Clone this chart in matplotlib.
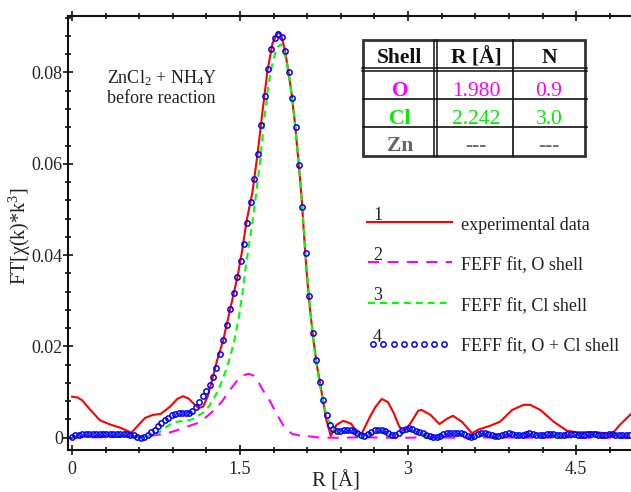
import numpy as np
import matplotlib
matplotlib.use('Agg')
import matplotlib.pyplot as plt
from matplotlib.ticker import MultipleLocator
from matplotlib.patches import Rectangle

plt.rcParams['font.family'] = ['Liberation Serif', 'DejaVu Serif']
plt.rcParams['mathtext.fontset'] = 'custom'
plt.rcParams['mathtext.rm'] = 'Liberation Serif'
plt.rcParams['mathtext.it'] = 'Liberation Serif:italic'
plt.rcParams['mathtext.bf'] = 'Liberation Serif:bold'
plt.rcParams['lines.scale_dashes'] = False

# ---------------- data ----------------
# 1: experimental data
exp_r = [0.00, 0.05, 0.09, 0.16, 0.25, 0.34, 0.44, 0.53, 0.59, 0.65, 0.72, 0.79,
         0.875, 0.94, 0.99, 1.04, 1.08, 1.13, 1.17, 1.21, 1.25, 1.29, 1.35, 1.41,
         1.48, 1.515, 1.56, 1.61, 1.655, 1.70, 1.745, 1.79, 1.84, 1.87, 1.90, 1.93,
         1.96, 1.99, 2.02, 2.05, 2.07, 2.095, 2.125, 2.155, 2.185, 2.21, 2.245, 2.27,
         2.31, 2.36, 2.42, 2.49, 2.55, 2.58, 2.66, 2.71, 2.765, 2.82, 2.87, 2.92,
         2.96, 3.02, 3.09, 3.12, 3.20, 3.28, 3.35, 3.40, 3.48, 3.57, 3.63, 3.73,
         3.82, 3.93, 4.03, 4.09, 4.18, 4.30, 4.42, 4.51, 4.68, 4.82, 4.89, 4.99]
exp_ft = [0.0090, 0.0088, 0.0082, 0.0062, 0.0038, 0.0029, 0.0021, 0.0011, 0.0027, 0.0043, 0.0050, 0.0052,
          0.0068, 0.0085, 0.0091, 0.0086, 0.0076, 0.0065, 0.0068, 0.0090, 0.0126, 0.0165, 0.0214, 0.0280,
          0.0356, 0.0405, 0.0477, 0.0537, 0.0619, 0.0714, 0.0805, 0.0864, 0.0889, 0.0880, 0.0849, 0.0805,
          0.0754, 0.0689, 0.0610, 0.0525, 0.0448, 0.0360, 0.0280, 0.0214, 0.0160, 0.0126, 0.0075, 0.0039,
          0.0004, 0.0028, 0.0037, 0.0031, 0.0010, 0.0006, 0.0046, 0.0068, 0.0085, 0.0078, 0.0055, 0.0025,
          0.0013, 0.0031, 0.0059, 0.0061, 0.0050, 0.0030, 0.0042, 0.0048, 0.0035, 0.0010, 0.0018, 0.0026,
          0.0035, 0.0061, 0.0072, 0.0072, 0.0061, 0.0035, 0.0015, 0.0012, 0.0012, 0.0008, 0.0028, 0.0052]

# 2: FEFF fit, O shell
o_r = [0.00, 0.15, 0.30, 0.45, 0.55, 0.62, 0.70, 0.78, 0.85, 0.92, 1.00, 1.06, 1.11,
       1.17, 1.23, 1.29, 1.34, 1.38, 1.42, 1.48, 1.53, 1.58, 1.62, 1.66, 1.69, 1.73,
       1.77, 1.82, 1.86, 1.89, 1.93, 1.97, 2.03, 2.09, 2.15, 2.22, 2.40, 2.60, 2.80,
       3.00, 3.20, 3.40, 3.60, 3.80, 4.00, 4.20, 4.40, 4.60, 4.80, 4.99]
o_ft = [0.0001, 0.0001, 0.0001, 0.0002, 0.0002, 0.0002, 0.0004, 0.0007, 0.0010, 0.0015, 0.0022, 0.0027, 0.0031,
        0.0040, 0.0052, 0.0066, 0.0080, 0.0094, 0.0108, 0.0127, 0.0137, 0.0140, 0.0136, 0.0124, 0.0110, 0.0094,
        0.0079, 0.0055, 0.0038, 0.0025, 0.0014, 0.0008, 0.0005, 0.0004, 0.0002, 0.0000, 0.0000, 0.0001, 0.0000,
        0.0000, 0.0001, 0.0000, 0.0000, 0.0001, 0.0000, 0.0000, 0.0001, 0.0000, 0.0000, 0.0000]

# 3: FEFF fit, Cl shell
cl_r = [0.00, 0.10, 0.20, 0.30, 0.40, 0.50, 0.58, 0.62, 0.68, 0.74, 0.79, 0.85, 0.90,
        0.96, 1.02, 1.07, 1.12, 1.17, 1.22, 1.26, 1.30, 1.34, 1.38, 1.42, 1.45, 1.49,
        1.52, 1.545, 1.575, 1.605, 1.64, 1.68, 1.72, 1.75, 1.78, 1.81, 1.84, 1.865,
        1.89, 1.92, 1.95, 1.98, 2.01, 2.04, 2.07, 2.10, 2.13, 2.16, 2.19, 2.22, 2.25,
        2.28, 2.31, 2.34, 2.37, 2.40, 2.45, 2.50, 2.55, 2.60, 2.65, 2.70, 2.76, 2.82,
        2.86, 2.92, 2.98, 3.02, 3.08, 3.14, 3.20, 3.26, 3.32, 3.38, 3.44, 3.50, 3.56,
        3.62, 3.68, 3.74, 3.79, 3.85, 3.91, 3.97, 4.04, 4.10, 4.17, 4.24, 4.30, 4.37,
        4.44, 4.51, 4.58, 4.65, 4.72, 4.79, 4.86, 4.93, 4.99]
cl_ft = [0.0002, 0.0004, 0.0004, 0.0004, 0.0004, 0.0004, 0.0002, 0.0001, 0.0003, 0.0008, 0.0014, 0.0025, 0.0033,
         0.0036, 0.0037, 0.0040, 0.0047, 0.0055, 0.0068, 0.0084, 0.0102, 0.0125, 0.0152, 0.0185, 0.0215, 0.0265,
         0.0315, 0.0365, 0.0415, 0.0462, 0.0528, 0.0608, 0.0705, 0.0768, 0.0810, 0.0840, 0.0857, 0.0862,
         0.0850, 0.0818, 0.0770, 0.0712, 0.0640, 0.0555, 0.0455, 0.0355, 0.0270, 0.0200, 0.0148, 0.0105, 0.0070,
         0.0042, 0.0030, 0.0018, 0.0010, 0.0010, 0.0013, 0.0013, 0.0008, 0.0002, 0.0006, 0.0011, 0.0013, 0.0009,
         0.0004, 0.0008, 0.0015, 0.0016, 0.0012, 0.0007, 0.0002, -0.0001, 0.0005, 0.0008, 0.0008, 0.0006, 0.0000,
         0.0005, 0.0008, 0.0004, 0.0001, 0.0004, 0.0007, 0.0005, 0.0006, 0.0007, 0.0004, 0.0006, 0.0006, 0.0003,
         0.0005, 0.0006, 0.0004, 0.0006, 0.0003, 0.0005, 0.0005, 0.0003, 0.0004]

# 4: FEFF fit, O + Cl shell (on the FT grid, step 0.0307 A)
r_step = 0.0307
sum_ft = [0.0002, 0.0005, 0.0007, 0.0008, 0.0009, 0.0009, 0.0009, 0.0008, 0.0008, 0.0008,
          0.0008, 0.0009, 0.0009, 0.0009, 0.0009, 0.0009, 0.0008, 0.0007, 0.0005, 0.0002,
          -0.0001, 0.0001, 0.0006, 0.0012, 0.0018, 0.0025, 0.0032, 0.0038, 0.0044, 0.0049,
          0.0052, 0.0054, 0.0055, 0.0055, 0.0054, 0.0058, 0.0068, 0.0079, 0.0091, 0.0103,
          0.0116, 0.0132, 0.0153, 0.0183, 0.0214, 0.0247, 0.0282, 0.0318, 0.0352, 0.0388,
          0.0424, 0.0470, 0.0516, 0.0567, 0.0622, 0.0685, 0.0748, 0.0808, 0.0852, 0.0876,
          0.0885, 0.0877, 0.0846, 0.0800, 0.0745, 0.0680, 0.0598, 0.0505, 0.0405, 0.0310,
          0.0230, 0.0170, 0.0122, 0.0082, 0.0050, 0.0028, 0.0019, 0.0014, 0.0014, 0.0016,
          0.0017, 0.0016, 0.0014, 0.0010, 0.0005, 0.0004, 0.0008, 0.0013, 0.0016, 0.0017,
          0.0017, 0.0015, 0.0011, 0.0006, 0.0006, 0.0011, 0.0016, 0.0020, 0.0021, 0.0019,
          0.0015, 0.0012, 0.0010, 0.0007, 0.0004, 0.0002, 0.0001, 0.0003, 0.0008, 0.0010,
          0.0011, 0.0011, 0.0011, 0.0010, 0.0008, 0.0004, 0.0002, 0.0004, 0.0008, 0.0011,
          0.0011, 0.0009, 0.0006, 0.0003, 0.0003, 0.0006, 0.0009, 0.0010, 0.0009, 0.0007,
          0.0006, 0.0007, 0.0009, 0.0010, 0.0009, 0.0007, 0.0006, 0.0007, 0.0009, 0.0009,
          0.0008, 0.0006, 0.0005, 0.0006, 0.0008, 0.0009, 0.0008, 0.0006, 0.0005, 0.0006,
          0.0008, 0.0009, 0.0008, 0.0006, 0.0005, 0.0006, 0.0008, 0.0008, 0.0007, 0.0006,
          0.0005, 0.0006, 0.0007]
sum_r = np.arange(len(sum_ft)) * r_step

series_labels = ['experimental data', 'FEFF fit, O shell', 'FEFF fit, Cl shell', 'FEFF fit, O + Cl shell']
series_numbers = ['1', '2', '3', '4']

x_ticks = [0, 1.5, 3, 4.5]
x_ticklabels = ['0', '1.5', '3', '4.5']
y_ticks = [0, 0.02, 0.04, 0.06, 0.08]
y_ticklabels = ['0', '0.02', '0.04', '0.06', '0.08']

table_header = ['Shell', 'R [Å]', 'N']
table_shells = ['O', 'Cl', 'Zn']
table_R = ['1.980', '2.242', '---']
table_N = ['0.9', '3.0', '---']

# ---------------- styles ----------------
RED, MAG, GRN, BLU = '#ff0000', '#ff00ff', '#00ff00', '#0000ff'
MAG_DASH = (8.0, 6.0)
GRN_DASH = (5.0, 3.6)

W, H = 631, 492
fig = plt.figure(figsize=(W / 100, H / 100), dpi=100)
ax = fig.add_axes([68 / W, 42 / H, 563 / W, 434.3 / H])

ax.plot(exp_r, exp_ft, color=RED, lw=1.5, zorder=3)
ax.plot(o_r, o_ft, color=MAG, lw=1.5, dashes=MAG_DASH, zorder=4)
ax.plot(cl_r, cl_ft, color=GRN, lw=1.5, dashes=GRN_DASH, zorder=5)
ax.plot(sum_r, sum_ft, ls='none', marker='o', ms=3.8, mfc='none', mec=BLU, mew=1.1, zorder=6)

ax.set_xlim(-0.036, 4.99)
ax.set_ylim(-0.00269, 0.09244)
ax.set_xticks(x_ticks, labels=x_ticklabels)
ax.set_yticks(y_ticks, labels=y_ticklabels)
ax.xaxis.set_minor_locator(MultipleLocator(0.3))
ax.yaxis.set_minor_locator(MultipleLocator(0.004))
ax.tick_params(which='both', direction='inout', top=True, right=False, width=1.2, colors='#111111',
               labelcolor='#222222', labelsize=13)
ax.tick_params(which='major', length=6.5)
ax.tick_params(which='minor', length=4)
ax.tick_params(axis='x', pad=5)
ax.tick_params(axis='y', pad=0.5)
for s in ['left', 'bottom', 'top']:
    ax.spines[s].set_linewidth(1.5)
    ax.spines[s].set_color('#111111')
ax.spines['right'].set_visible(False)

ax.set_xlabel('R [Å]', fontsize=15, color='#222222')
ax.xaxis.set_label_coords((336 - 68) / 563, (450 - 481) / 434.3)
ax.xaxis.label.set_va('center')
ax.set_ylabel('FT[χ(k)*k$^3$]', fontsize=14.5, color='#222222')
ax.yaxis.set_label_coords((20 - 68) / 563, (450 - 236) / 434.3)
ax.yaxis.label.set_va('center')

ax.text((107 - 68) / 563, (450 - 83.3) / 434.3, 'ZnCl$_2$ + NH$_4$Y', transform=ax.transAxes,
        fontsize=13, va='baseline', ha='left', color='#222222')
ax.text((107 - 68) / 563, (450 - 103) / 434.3, 'before reaction', transform=ax.transAxes,
        fontsize=13, va='baseline', ha='left', color='#222222')

# ---------------- overlay (legend + table) in pixel coords ----------------
ov = fig.add_axes([0, 0, 1, 1], zorder=10)
ov.set_xlim(0, W)
ov.set_ylim(H, 0)
ov.axis('off')
ov.patch.set_visible(False)

leg_y = [221.7, 261.7, 302.7, 344.3]
num_base = [219.5, 259.5, 300.5, 341.5]
txt_base = [230.5, 270.5, 311.5, 351.5]
ov.plot([366.7, 451.7], [leg_y[0]] * 2, color=RED, lw=1.5)
ov.plot([368, 451.7], [leg_y[1]] * 2, color=MAG, lw=1.5, dashes=MAG_DASH)
ov.plot([368, 446.7], [leg_y[2]] * 2, color=GRN, lw=1.5, dashes=GRN_DASH)
ov.plot(np.linspace(373.3, 444, 8), [leg_y[3]] * 8, ls='none', marker='o', ms=3.8,
        mfc='none', mec=BLU, mew=1.1)
for i in range(4):
    ov.text(373, num_base[i], series_numbers[i], fontsize=13, va='baseline', ha='left', color='#222222')
    ov.text(460.7, txt_base[i], series_labels[i], fontsize=13, va='baseline', ha='left', color='#222222')

# table
x0, x1, y0, y1 = 363.3, 585, 40, 156
ov.add_patch(Rectangle((x0, y0), x1 - x0, y1 - y0, fill=False, ec='#333333', lw=2.0))
for yy in [68.3, 71.3]:
    ov.plot([x0 - 1, x1 + 2], [yy, yy], color='#111111', lw=1.1)
for yy in [99.0, 127.3]:
    ov.plot([x0, x1 + 2], [yy, yy], color='#111111', lw=1.2)
for xx in [434.3, 437.3]:
    ov.plot([xx, xx], [y0, y1], color='#111111', lw=1.1)
ov.plot([512.7, 512.7], [y0, y1], color='#111111', lw=1.2)

col_x = [399, 476, 549]
head_base = 63.3
row_base = [95.5, 123.5, 151.0]
row_colors = [MAG, '#00ee00', '#666666']
for j, h in enumerate(table_header):
    ov.text(col_x[j], head_base, h, fontsize=15.5, fontweight='bold', ha='center', va='baseline', color='#111111')
for i in range(3):
    ov.text(col_x[0] + 1, row_base[i], table_shells[i], fontsize=15.5, fontweight='bold', ha='center',
            va='baseline', color=row_colors[i])
    ov.text(col_x[1], row_base[i], table_R[i], fontsize=15.5, ha='center', va='baseline', color=row_colors[i])
    ov.text(col_x[2], row_base[i], table_N[i], fontsize=15.5, ha='center', va='baseline', color=row_colors[i])

fig.savefig('out.png', dpi=100)
